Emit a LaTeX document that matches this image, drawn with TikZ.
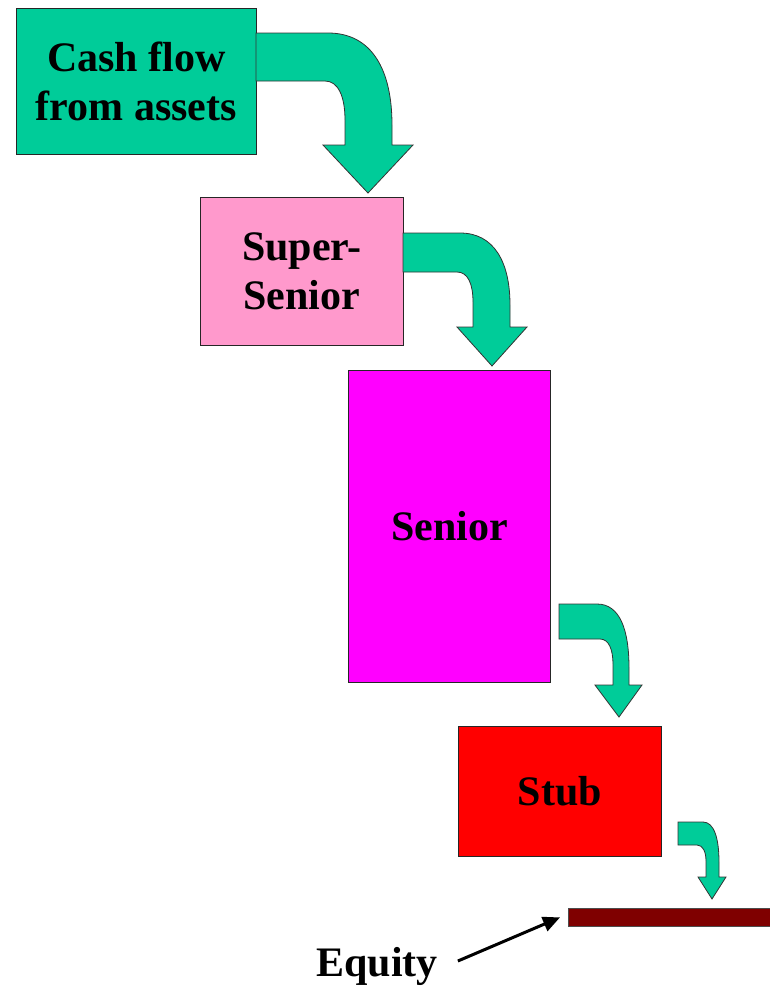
\documentclass[tikz,border=0pt]{standalone}
\usepackage{fontspec}
\setmainfont{Liberation Serif}
\usetikzlibrary{arrows.meta}
\definecolor{flowgreen}{HTML}{00CC99}
\definecolor{superpink}{HTML}{FF99CC}
\definecolor{seniormag}{HTML}{FF00FF}
\definecolor{stubred}{HTML}{FF0000}
\definecolor{equitybrown}{HTML}{7F0000}
\tikzset{
  tranche/.style={draw=black!85, line width=0.9pt, anchor=north west, inner sep=0pt,
    align=center, font=\bfseries\fontsize{42}{49}\selectfont},
  flowarrow/.style={fill=flowgreen, draw=black!80, line width=0.8pt, line join=miter},
  label/.style={font=\bfseries\fontsize{42}{49}\selectfont, inner sep=0pt},
  pointer/.style={line width=3pt, -{Triangle[length=17pt,width=15pt]}}
}
\begin{document}
\begin{tikzpicture}[x=1pt,y=-1pt]
\useasboundingbox (0,0) rectangle (769,986);
% tranches
\node[tranche, fill=flowgreen, minimum width=240pt, minimum height=146pt] (cash) at (16,8) {Cash flow\\from assets};
\node[tranche, fill=superpink, minimum width=203pt, minimum height=148pt] (super) at (200,197) {Super-\\Senior};
\node[tranche, fill=seniormag, minimum width=202pt, minimum height=312pt] (senior) at (348,370) {Senior};
\node[tranche, fill=stubred, minimum width=203pt, minimum height=130pt] (stub) at (458,726) {Stub};
\node[draw=black!70, line width=0.8pt, fill=equitybrown, anchor=north west, inner sep=0pt,
  minimum width=206pt, minimum height=18pt] (equity) at (568,908) {};
% cash flow arrows between tranches
\draw[flowarrow] (256,33) -- (328,33) .. controls (372,33) and (392,70) .. (392,125)
  -- (392,145) -- (413,145) -- (368,193) -- (323,145) -- (345,145) -- (345,120)
  .. controls (345,96) and (338,81) .. (325,81) -- (256,81) -- cycle;
\draw[flowarrow] (403,233) -- (460,233) .. controls (494,233) and (510,262) .. (510,305)
  -- (510,327) -- (527,327) -- (492,366) -- (457,327) -- (473,327) -- (473,302)
  .. controls (473,284) and (468,272) .. (457,272) -- (403,272) -- cycle;
\draw[flowarrow] (559,604) -- (597,604) .. controls (620,604) and (629,630) .. (629,668)
  -- (629,685) -- (642,685) -- (619,717) -- (595,685) -- (613,685) -- (613,664)
  .. controls (613,650) and (609,639) .. (600,639) -- (559,639) -- cycle;
\draw[flowarrow] (678,822) -- (703,822) .. controls (714,822) and (719,838) .. (719,862)
  -- (719,877) -- (726,877) -- (712,899) -- (698,877) -- (706,877) -- (706,861)
  .. controls (706,852) and (703,845) .. (697,845) -- (678,845) -- cycle;
% equity label
\node[label] (eqlabel) at (377,966) {Equity};
\draw[pointer] ([xshift=20pt,yshift=5pt]eqlabel.east) -- ([xshift=-8pt]equity.west);
\end{tikzpicture}
\end{document}
